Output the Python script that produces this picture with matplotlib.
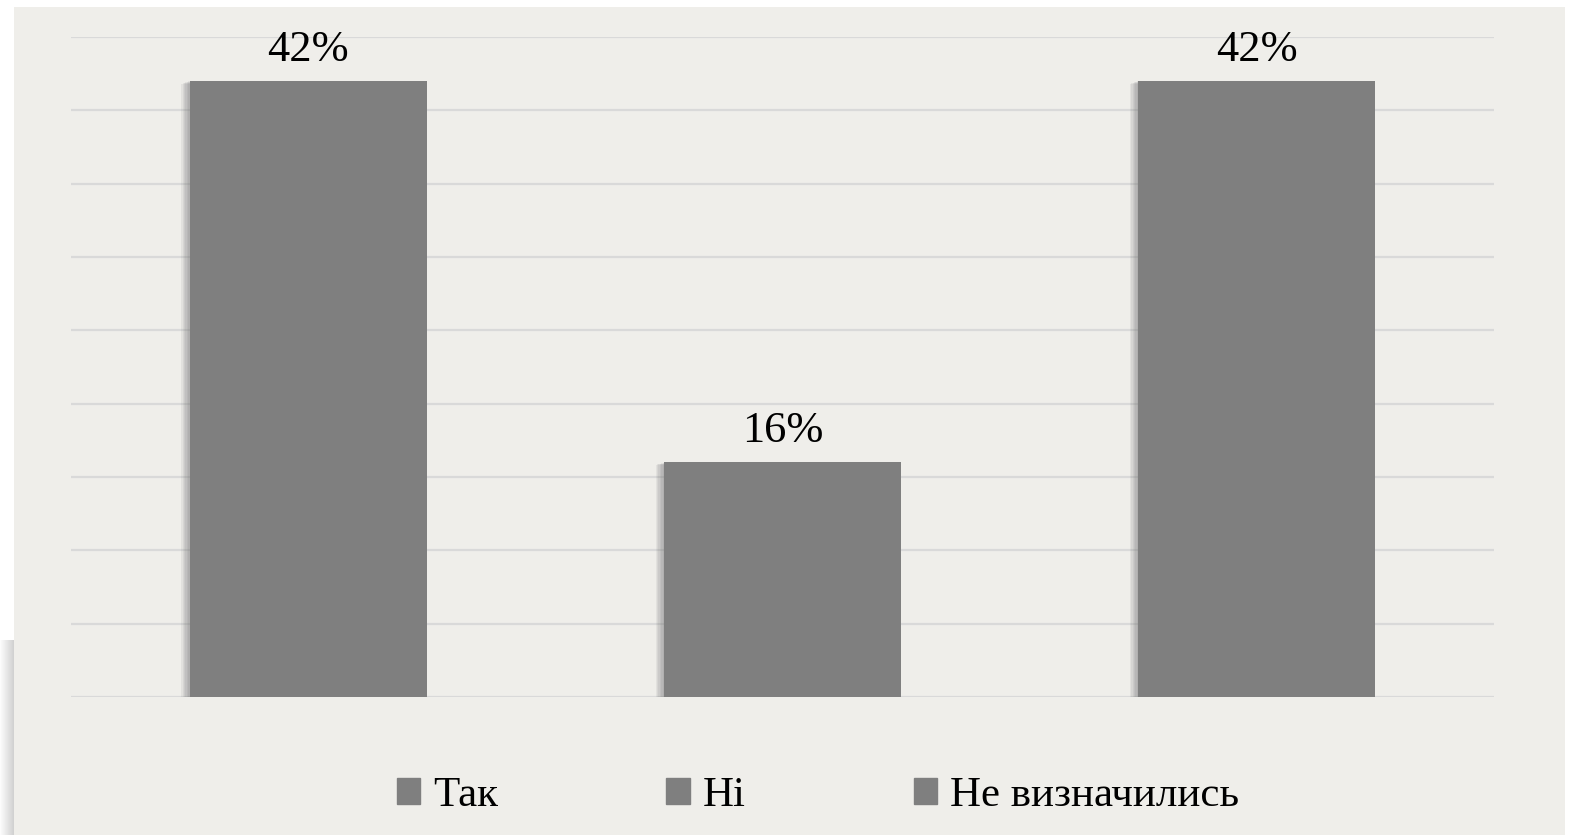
import matplotlib.pyplot as plt
import matplotlib.patches as mpatches
import matplotlib.patheffects as pe

categories = ["Так", "Ні", "Не визначились"]
values = [42, 16, 42]
labels = ["42%", "16%", "42%"]

bg = "#EFEEEA"
bar_color = "#7F7F7F"
grid_color = "#D9D9D9"

plt.rcParams["font.family"] = ["Liberation Serif", "DejaVu Serif"]

W, H = 1578, 835
fig = plt.figure(figsize=(W / 100, H / 100), dpi=100)
fig.patch.set_facecolor("white")

# chart area background and soft left shadow
fig.patches.append(mpatches.Rectangle((14 / W, 0), (1565 - 14) / W, (H - 7) / H,
                                      transform=fig.transFigure, facecolor=bg,
                                      edgecolor="none", zorder=-2))
for i in range(14):
    fig.patches.append(mpatches.Rectangle((i / W, 0), 1 / W, (H - 640) / H,
                                          transform=fig.transFigure,
                                          facecolor="#C8C8C8", alpha=0.05 + i * 0.06,
                                          edgecolor="none", zorder=-2))

ax = fig.add_axes([71 / W, 1 - 697 / H, (1494 - 71) / W, (697 - 37) / H])
ax.set_facecolor("none")

# soft blurred shadow, built from several faint offset copies
shadow = [pe.SimplePatchShadow(offset=(-k, -k * 0.3), shadow_rgbFace="#666666", alpha=0.09)
          for k in range(1, 7)]
x = range(len(categories))
bars = ax.bar(x, values, width=0.5, color=bar_color, zorder=3,
              path_effects=shadow + [pe.Normal()])
bar_handles = []
for b, lab, cat in zip(bars, labels, categories):
    ax.annotate(lab, (b.get_x() + b.get_width() / 2, b.get_height()),
                xytext=(0, 8), textcoords="offset points",
                ha="center", va="bottom", fontsize=32, color="black")
    bar_handles.append(mpatches.Patch(color=bar_color, label=cat))

ax.set_xlim(-0.5, 2.5)
ax.set_ylim(0, 45)
ax.set_yticks(range(0, 46, 5))
ax.yaxis.grid(True, color=grid_color, linewidth=1.6, zorder=0)
ax.set_axisbelow(True)
ax.tick_params(left=False, bottom=False, labelleft=False, labelbottom=False)
for s in ax.spines.values():
    s.set_visible(False)

fig.legend(handles=bar_handles, loc="center", bbox_to_anchor=(818 / W, 1 - 796 / H),
           ncol=3, frameon=False, fontsize=31, handlelength=0.55, handleheight=0.55,
           handletextpad=0.3, columnspacing=3.9)

fig.savefig("out.png", dpi=100, facecolor="white")
